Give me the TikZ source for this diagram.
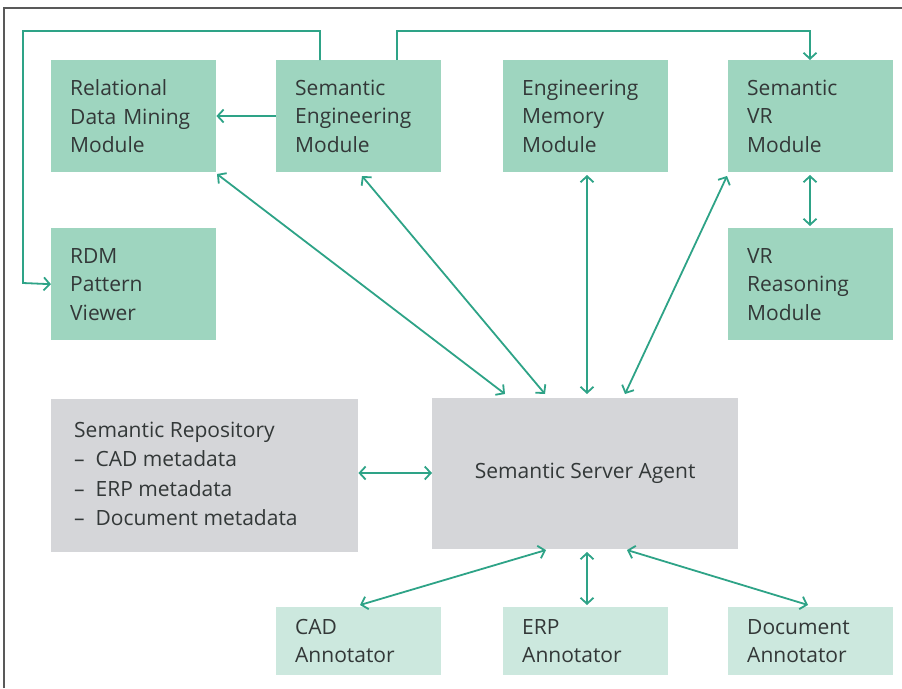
\documentclass[tikz,border=0pt]{standalone}
\usepackage{fontspec}
\setmainfont{Open Sans}
\usetikzlibrary{arrows.meta}
\definecolor{ModClr}{rgb}{0.62,0.835,0.75}
\definecolor{AnnClr}{rgb}{0.80,0.91,0.87}
\definecolor{RepoClr}{rgb}{0.835,0.84,0.85}
\definecolor{LinkClr}{rgb}{0.18,0.64,0.53}
\definecolor{TxtClr}{rgb}{0.2,0.22,0.22}

\begin{document}
\begin{tikzpicture}[x=1pt,y=-1pt,
  font=\fontsize{21}{28.5}\selectfont,text=TxtClr,
  modbox/.style={fill=ModClr,anchor=north west,minimum width=165pt,minimum height=112pt,
    text width=127pt,align=left,inner xsep=19pt},
  annbox/.style={fill=AnnClr,anchor=north west,minimum width=165pt,minimum height=68pt,
    text width=127pt,align=left,inner xsep=19pt},
  greybox/.style={fill=RepoClr,anchor=north west},
  link/.style={draw=LinkClr,line width=1.8pt},
  tip/.style={-{Straight Barb[length=6pt,width=13pt]}},
  tips/.style={{Straight Barb[length=6pt,width=13pt]}-{Straight Barb[length=6pt,width=13pt]}}]

\useasboundingbox (0,0) rectangle (902,688);
\draw[gray!70!black,line width=1.2pt] (4,688) -- (4,8) -- (902,8);

% top row
\node[modbox] (rdm) at (51,60) {Relational\\Data Mining\\Module};
\node[modbox] (sem) at (276,60) {Semantic\\Engineering\\Module};
\node[modbox] (emm) at (503,60) {Engineering\\Memory\\Module};
\node[modbox] (svr) at (728,60) {Semantic\\VR\\Module};
% second row
\node[modbox] (view) at (51,228) {RDM\\Pattern\\Viewer};
\node[modbox] (vrr) at (728,228) {VR\\Reasoning\\Module};
% middle
\node[greybox,minimum width=307pt,minimum height=153pt] (repo) at (51,399) {};
\node[anchor=west,align=left,font=\fontsize{21}{29.5}\selectfont,inner sep=0pt]
  (repotxt) at (74,474) {Semantic Repository\\\textendash\ \ CAD metadata\\\textendash\ \ ERP metadata\\\textendash\ \ Document metadata};
\node[greybox,minimum width=306pt,minimum height=151pt] (ssa) at (432,398) {Semantic Server Agent};
% annotators
\node[annbox] (cad) at (276,607) {CAD\\Annotator};
\node[annbox] (erp) at (503,607) {ERP\\Annotator};
\node[annbox] (doc) at (728,607) {Document\\Annotator};

\coordinate (sa) at (320,60);
\coordinate (sb) at (397,60);
\draw[link,tip] (sa) -- (320,31) -- (23,31) -- (23,283) -- (view.west);
\draw[link,tip] (sb) -- (397,31) -- (810,31) -- (svr.north -| 810,0);
\draw[link,tip] (sem.west |- 0,116) -- (rdm.east |- 0,116);

\draw[link,tips] (217,174) -- (505,394);
\draw[link,tips] (362,176) -- (545,394);
\draw[link,tips] (587,175) -- (587,394);
\draw[link,tips] (727,176) -- (625,394);
\draw[link,tips] (810,175) -- (810,226);
\draw[link,tips] (repo.east |- 0,473) -- (ssa.west |- 0,473);
\draw[link,tips] (546,550) -- (360,605);
\draw[link,tips] (587,552) -- (587,605);
\draw[link,tips] (627,550) -- (808,605);
\end{tikzpicture}
\end{document}
